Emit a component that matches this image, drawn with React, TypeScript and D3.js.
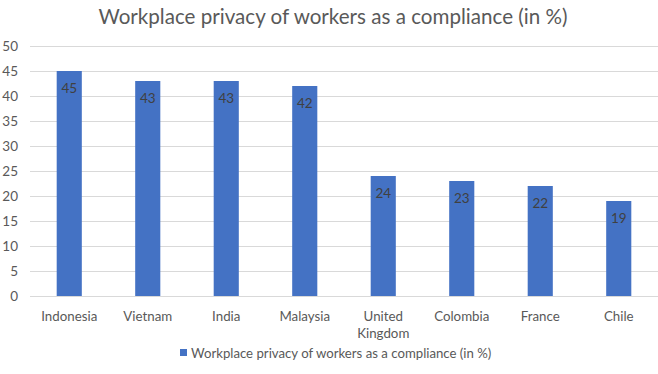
import React from "react";
import * as d3 from "d3";

const categories = ["Indonesia", "Vietnam", "India", "Malaysia", "United Kingdom", "Colombia", "France", "Chile"];
const values = [45, 43, 43, 42, 24, 23, 22, 19];
const yTicks = [0, 5, 10, 15, 20, 25, 30, 35, 40, 45, 50];
const title = "Workplace privacy of workers as a compliance (in %)";
const seriesName = "Workplace privacy of workers as a compliance (in %)";

const W = 658, H = 374;
const FONT = "Lato, 'Open Sans', sans-serif";

export default function App() {
  const x = d3.scaleBand<string>().domain(categories).range([30, 658]).paddingInner(0.68).paddingOuter(0.34);
  const y = d3.scaleLinear().domain([0, 50]).range([296, 46]);
  const labelLines = (c: string) => (c === "United Kingdom" ? ["United", "Kingdom"] : [c]);
  return (
    <div style={{ position: "absolute", left: 0, top: 0 }}>
      <svg width={W} height={H} style={{ display: "block", background: "#fff" }} fontFamily={FONT}>
        <text x={333} y={24} textAnchor="middle" fontSize={20.6} fill="#595959">{title}</text>
        {yTicks.map((t) => (
          <g key={t}>
            <line x1={30} x2={658} y1={y(t) + 0.5} y2={y(t) + 0.5} stroke="#d9d9d9" strokeWidth={1} />
            <text x={18} y={y(t) + 5} textAnchor="end" fontSize={13.5} fill="#595959">{t}</text>
          </g>
        ))}
        {categories.map((c, i) => (
          <g key={c}>
            <rect x={x(c)} y={y(values[i])} width={x.bandwidth()} height={y(0) - y(values[i])} fill="#4472C4" />
            <text x={(x(c) as number) + x.bandwidth() / 2} y={y(values[i]) + 21.5} textAnchor="middle" fontSize={13.5} fill="#404040">{values[i]}</text>
            {labelLines(c).map((l, j) => (
              <text key={j} x={(x(c) as number) + x.bandwidth() / 2} y={321 + j * 16.5} textAnchor="middle" fontSize={13.3} fill="#595959">{l}</text>
            ))}
          </g>
        ))}
        <rect x={180} y={349} width={7} height={7} fill="#4472C4" />
        <text x={191} y={357.5} fontSize={13.2} fill="#595959">{seriesName}</text>
      </svg>
    </div>
  );
}
